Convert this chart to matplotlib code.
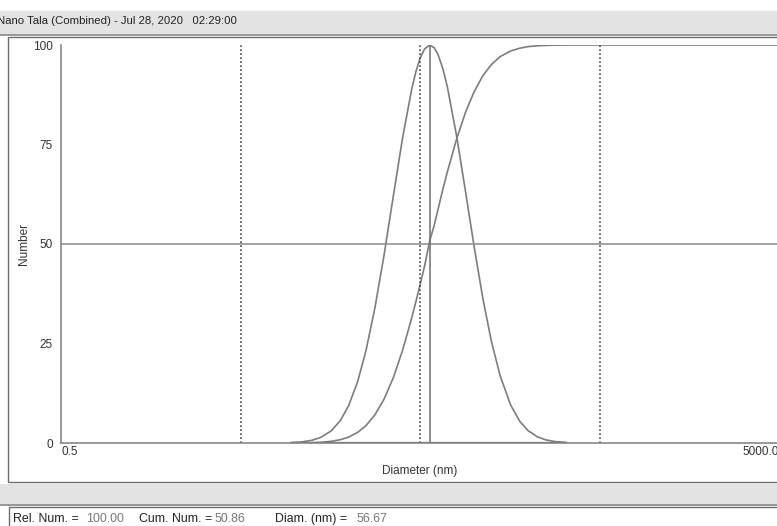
import numpy as np
import matplotlib.pyplot as plt
from matplotlib.patches import Rectangle

# diameters (nm) and values
diam = [9.6, 11, 12.5, 14, 16, 18, 20, 22.5, 25, 28, 31.5, 35.5, 40, 45,
        47.5, 50, 53, 56.67, 60, 63, 67, 71, 80, 90, 100, 112, 125, 140,
        160, 180, 200, 225, 250, 280, 325]
rel_num = [0.1, 0.28, 0.68, 1.4, 3.04, 5.65, 9.35, 15.5, 23.2, 33.8, 47.1,
           62.0, 76.7, 89.0, 93.4, 96.6, 99.0, 100.0, 99.3, 97.6, 94.1, 89.5,
           77.1, 62.7, 49.5, 36.3, 25.5, 16.8, 9.52, 5.41, 3.11, 1.57, 0.81,
           0.38, 0.13]
cum_diam = [12.5, 14, 16, 18, 20, 22.5, 25, 28, 31.5, 35.5, 40, 45, 47.5,
            50, 53, 56.67, 60, 63, 67, 71, 80, 90, 100, 112, 125, 140, 160,
            180, 200, 225, 250, 280, 325, 400, 5000]
cum_num = [0.08, 0.17, 0.41, 0.83, 1.47, 2.68, 4.36, 7.03, 10.98, 16.4, 23.3,
           31.5, 35.6, 39.7, 44.4, 50.86, 54.7, 58.7, 63.7, 68.1, 76.4, 83.3,
           88.2, 92.3, 95.1, 97.1, 98.5, 99.2, 99.6, 99.8, 99.9, 99.96, 99.99,
           100.0, 100.0]
grid_diam = [5, 50, 500]
cursor_diam = 56.67
title = "Nano Tala (Combined) - Jul 28, 2020   02:29:00"

W, H = 777, 526
plt.rcParams["font.family"] = ["Liberation Sans", "DejaVu Sans"]
fig = plt.figure(figsize=(W / 100, H / 100), dpi=100)
fig.patch.set_facecolor("white")


def fx(px):
    return px / W


def fy(py):
    return 1 - py / H


grey_bg = "#e3e3e3"
edge = "#6e6e6e"

# window chrome
fig.patches.append(Rectangle((0, fy(35)), 1, fy(11) - fy(35), transform=fig.transFigure,
                             facecolor=grey_bg, edgecolor="none", zorder=0))
fig.add_artist(plt.Line2D([0, 1], [fy(35), fy(35)], transform=fig.transFigure,
                          color="#8a8a8a", lw=1.2, zorder=1))
fig.patches.append(Rectangle((fx(8), fy(482)), 1.1, fy(37) - fy(482), transform=fig.transFigure,
                             facecolor="white", edgecolor=edge, lw=1.0, zorder=0))
fig.patches.append(Rectangle((0, fy(506)), 1, fy(484) - fy(506), transform=fig.transFigure,
                             facecolor=grey_bg, edgecolor="none", zorder=0))
fig.add_artist(plt.Line2D([0, 1], [fy(505), fy(505)], transform=fig.transFigure,
                          color="#8a8a8a", lw=1.2, zorder=1))
fig.patches.append(Rectangle((fx(9), fy(530)), 1.1, fy(507) - fy(530), transform=fig.transFigure,
                             facecolor="white", edgecolor=edge, lw=1.0, zorder=0))

fig.text(fx(-3), fy(21), title, fontsize=8.2, color="#222222", va="center", ha="left", zorder=3)

ax = fig.add_axes([fx(61), fy(443), fx(779) - fx(61), fy(45) - fy(443)])
ax.set_zorder(5)
ax.set_facecolor("none")
ax.set_xscale("log")
ax.set_xlim(0.5, 5000)
ax.set_ylim(0, 100)

line_c = "#7d7d7d"
ax.plot(diam, rel_num, color=line_c, lw=1.2)
ax.plot(cum_diam, cum_num, color=line_c, lw=1.2)
ax.plot([diam[0], diam[-1]], [0, 0], color="#555555", lw=1.6)
for d in grid_diam:
    ax.axvline(d, color="#4a4a4a", lw=1.2, ls=(0, (1.0, 1.4)))
ax.axhline(50, color="#8a8a8a", lw=1.1)
ax.plot([cursor_diam, cursor_diam], [0, 100], color="#707070", lw=1.1)

for s in ["top", "right"]:
    ax.spines[s].set_visible(False)
for s in ["left", "bottom"]:
    ax.spines[s].set_color("#888888")
    ax.spines[s].set_linewidth(1.2)

ax.set_yticks([0, 25, 50, 75, 100])
ax.set_yticklabels(["0", "25", "50", "75", "100"], fontsize=8.5, color="#333333")
ax.tick_params(axis="y", length=0, pad=6)
ax.set_xticks([0.5, 5000])
ax.set_xticks([], minor=True)
ax.set_xticklabels(["0.5", "5000.0"], fontsize=8.5, color="#333333")
ax.tick_params(axis="x", length=0, pad=2)
labs = ax.get_xticklabels()
labs[0].set_ha("left")
labs[1].set_ha("right")

ax.set_ylabel("Number", fontsize=8.5, color="#333333", labelpad=2)
ax.set_xlabel("Diameter (nm)", fontsize=8.5, color="#333333", labelpad=5)

# status line
parts = [("Rel. Num. =", "#222222", 13), ("100.00", "#777777", 86),
         ("Cum. Num. =", "#222222", 139), ("50.86", "#777777", 215),
         ("Diam. (nm) =", "#222222", 275), ("56.67", "#777777", 357)]
for txt, c, x in parts:
    fig.text(fx(x), fy(519), txt, fontsize=8.9, color=c, va="center", ha="left", zorder=3)

fig.savefig("out.png", dpi=100)
